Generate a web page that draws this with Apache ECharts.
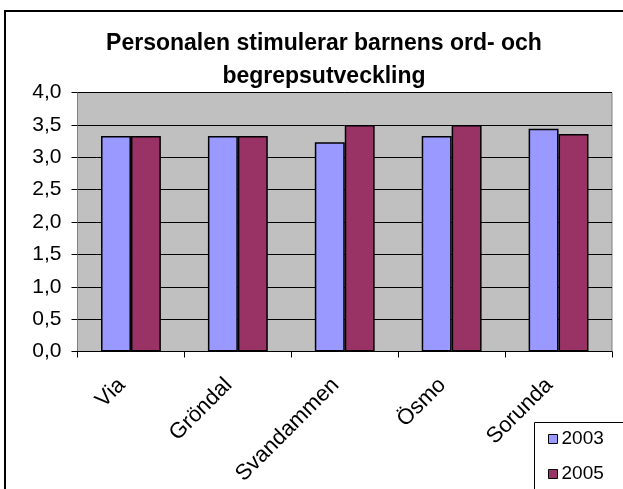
<!DOCTYPE html>
<html>
<head>
<meta charset="utf-8">
<script src="https://cdn.jsdelivr.net/npm/echarts@6/dist/echarts.min.js"></script>
<style>
  html, body { margin: 0; padding: 0; background: #fff; }
  #chart { width: 623px; height: 489px; }
</style>
</head>
<body>
<div id="chart"></div>
<script>
  // data
  var categories = ['Via', 'Gröndal', 'Svandammen', 'Ösmo', 'Sorunda'];
  var values2003 = [3.33, 3.33, 3.23, 3.33, 3.44];
  var values2005 = [3.33, 3.33, 3.5, 3.5, 3.36];
  var seriesNames = ['2003', '2005'];
  var yTicks = [0, 0.5, 1, 1.5, 2, 2.5, 3, 3.5, 4];

  var font = 'Liberation Sans, Arial, sans-serif';

  var myChart = echarts.init(document.getElementById('chart'));
  myChart.setOption({
    animation: false,
    textStyle: { fontFamily: font },
    graphic: [
      { // outer frame
        type: 'rect',
        z: -10,
        shape: { x: 5, y: 11, width: 700, height: 600 },
        style: { fill: 'none', stroke: '#000', lineWidth: 2 }
      },
      { // legend box
        type: 'rect',
        z: 5,
        shape: { x: 534.5, y: 422.5, width: 120, height: 100 },
        style: { fill: '#fff', stroke: '#000', lineWidth: 1 }
      }
    ],
    title: {
      text: 'Personalen stimulerar barnens ord- och\nbegrepsutveckling',
      left: 319,
      top: 22,
      textAlign: 'center',
      textStyle: { fontSize: 23, fontWeight: 'bold', color: '#000', lineHeight: 33, fontFamily: font }
    },
    legend: {
      data: seriesNames,
      orient: 'vertical',
      left: 534,
      top: 428,
      z: 10,
      padding: [0, 0, 0, 14],
      itemGap: 13,
      itemWidth: 9,
      itemHeight: 9,
      icon: 'rect',
      itemStyle: { borderColor: '#000', borderWidth: 1 },
      textStyle: { fontSize: 19, color: '#000', fontFamily: font, lineHeight: 22, padding: [0, 0, 0, -1] }
    },
    grid: {
      left: 77.5,
      right: 11,
      top: 92.5,
      bottom: 137.5,
      show: true,
      backgroundColor: '#C0C0C0',
      borderColor: '#808080',
      borderWidth: 1,
      outerBoundsMode: 'none'
    },
    xAxis: {
      type: 'category',
      data: categories,
      axisLine: { lineStyle: { color: '#000', width: 1 } },
      axisTick: { show: true, length: 6, inside: false, lineStyle: { color: '#000' } },
      axisLabel: { rotate: 45, margin: 21, fontSize: 22, color: '#000', fontFamily: font, padding: [0, 13, 0, 0] },
      splitLine: { show: false }
    },
    yAxis: {
      type: 'value',
      min: yTicks[0],
      max: yTicks[yTicks.length - 1],
      interval: 0.5,
      axisLine: { show: true, lineStyle: { color: '#808080', width: 1 } },
      axisTick: { show: true, length: 6, lineStyle: { color: '#000' } },
      axisLabel: {
        margin: 16,
        fontSize: 21,
        color: '#000',
        fontFamily: font,
        formatter: function (v) { return v.toFixed(1).replace('.', ','); }
      },
      splitLine: { show: true, lineStyle: { color: '#000', width: 1 } }
    },
    series: [
      {
        name: seriesNames[0],
        type: 'bar',
        data: values2003,
        barGap: '0%',
        barCategoryGap: '44%',
        itemStyle: { color: '#9999FF', borderColor: '#000', borderWidth: 1.5 }
      },
      {
        name: seriesNames[1],
        type: 'bar',
        data: values2005,
        barGap: '0%',
        barCategoryGap: '44%',
        itemStyle: { color: '#993366', borderColor: '#000', borderWidth: 1.5 }
      }
    ]
  });
</script>
</body>
</html>
